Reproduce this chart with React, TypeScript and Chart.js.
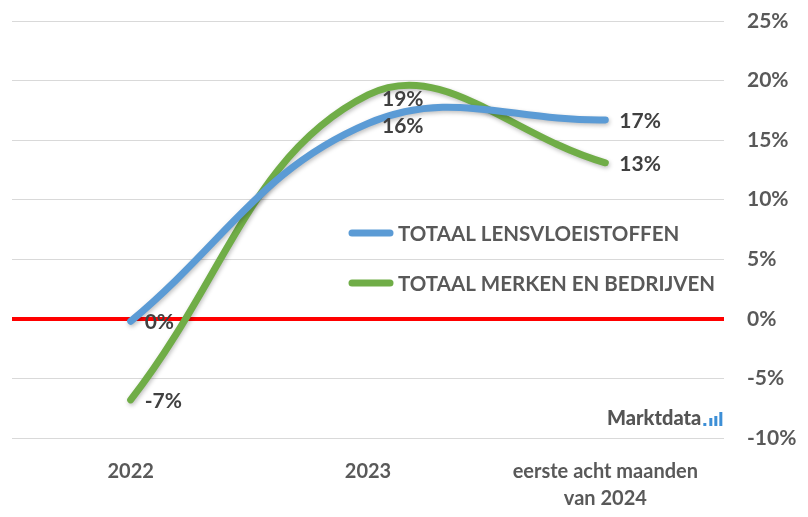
import React, { useEffect, useRef } from "react";
import { Chart, registerables } from "chart.js";

Chart.register(...registerables);

const categories: (string | string[])[] = ["2022", "2023", ["eerste acht maanden", "van 2024"]];
const seriesNames = ["TOTAAL LENSVLOEISTOFFEN", "TOTAAL MERKEN EN BEDRIJVEN"];
const lensvloeistoffen = [-0.2, 16.4, 16.7];
const merkenEnBedrijven = [-6.8, 18.8, 13.1];
const seriesColors = ["#5B9BD5", "#70AD47"];
const yMin = -10;
const yMax = 25;
const yStep = 5;

const FONT = "Lato, 'Open Sans', sans-serif";
const TICK_COLOR = "#595959";
const LABEL_COLOR = "#404040";

// small manual nudges for overlapping data labels (dataset -> point index -> dy)
const labelNudge: Record<number, Record<number, number>> = {
  0: { 1: 2 },
  1: { 1: 3 },
};

const dataLabelPlugin = {
  id: "dataLabels",
  afterDatasetsDraw(chart: any) {
    const ctx = chart.ctx;
    ctx.save();
    ctx.font = `bold 21px ${FONT}`;
    ctx.fillStyle = LABEL_COLOR;
    ctx.textAlign = "left";
    ctx.textBaseline = "middle";
    chart.data.datasets.forEach((ds: any, di: number) => {
      const meta = chart.getDatasetMeta(di);
      meta.data.forEach((pt: any, i: number) => {
        const v = Math.round(ds.data[i]);
        const txt = `${v === 0 ? 0 : v}%`;
        const dy = (labelNudge[di] && labelNudge[di][i]) || 0;
        ctx.fillText(txt, pt.x + 14, pt.y + dy + 1);
      });
    });
    ctx.restore();
  },
};

const legendPlugin = {
  id: "insideLegend",
  afterDatasetsDraw(chart: any) {
    const ctx = chart.ctx;
    const area = chart.chartArea;
    ctx.save();
    seriesNames.forEach((name, i) => {
      const y = area.top + 212 + i * 50;
      const x0 = area.left + 340;
      ctx.strokeStyle = seriesColors[i];
      ctx.lineWidth = 7;
      ctx.lineCap = "round";
      ctx.beginPath();
      ctx.moveTo(x0, y);
      ctx.lineTo(x0 + 38, y);
      ctx.stroke();
      ctx.font = `bold 20.5px ${FONT}`;
      ctx.fillStyle = TICK_COLOR;
      ctx.textAlign = "left";
      ctx.textBaseline = "middle";
      ctx.fillText(name, x0 + 46, y + 1);
    });
    // watermark
    const wx = area.right - 117;
    const wy = area.bottom - 19;
    ctx.font = `900 20px ${FONT}`;
    ctx.fillStyle = "#555555";
    ctx.textBaseline = "middle";
    ctx.fillText("Marktdata", wx, wy);
    const w = ctx.measureText("Marktdata").width;
    ctx.fillStyle = "#3D8FD6";
    const bx = wx + w + 2;
    ctx.fillRect(bx, wy + 4, 3, 3);
    ctx.fillRect(bx + 6, wy - 1, 3, 8);
    ctx.fillRect(bx + 11, wy - 3, 3, 10);
    ctx.fillRect(bx + 16, wy - 7, 3, 14);
    ctx.restore();
  },
};

const shadowPlugin = {
  id: "lineShadow",
  beforeDatasetDraw(chart: any) {
    const ctx = chart.ctx;
    ctx.save();
    ctx.shadowColor = "rgba(0,0,0,0.25)";
    ctx.shadowBlur = 4;
    ctx.shadowOffsetX = 1;
    ctx.shadowOffsetY = 2;
  },
  afterDatasetDraw(chart: any) {
    chart.ctx.restore();
  },
};

export default function App() {
  const canvasRef = useRef<HTMLCanvasElement | null>(null);

  useEffect(() => {
    if (!canvasRef.current) return;
    const chart = new Chart(canvasRef.current, {
      type: "line",
      data: {
        labels: categories as any,
        datasets: [
          {
            label: seriesNames[0],
            data: lensvloeistoffen,
            borderColor: seriesColors[0],
            backgroundColor: seriesColors[0],
            borderWidth: 7,
            tension: 0.4,
            pointRadius: 0,
            borderCapStyle: "round",
            borderJoinStyle: "round",
            fill: false,
          },
          {
            label: seriesNames[1],
            data: merkenEnBedrijven,
            borderColor: seriesColors[1],
            backgroundColor: seriesColors[1],
            borderWidth: 7,
            tension: 0.4,
            pointRadius: 0,
            borderCapStyle: "round",
            borderJoinStyle: "round",
            fill: false,
          },
        ],
      },
      options: {
        animation: false,
        responsive: true,
        maintainAspectRatio: false,
        layout: { padding: { left: 12, top: 21, right: 0, bottom: 0 } },
        plugins: {
          legend: { display: false },
          tooltip: { enabled: false },
        },
        scales: {
          x: {
            offset: true,
            grid: { display: false, drawTicks: false },
            border: { display: false },
            ticks: {
              color: TICK_COLOR,
              font: { family: FONT, size: 20, weight: "bold", lineHeight: 1.35 },
              padding: 20,
              maxRotation: 0,
              autoSkip: false,
            },
            afterFit(scale: any) {
              scale.height = 79;
              scale.paddingLeft = 0;
              scale.paddingRight = 0;
            },
          },
          y: {
            position: "right",
            min: yMin,
            max: yMax,
            grid: {
              drawTicks: false,
              color: (c: any) => (c.tick && c.tick.value === 0 ? "#FF0000" : "#D9D9D9"),
              lineWidth: (c: any) => (c.tick && c.tick.value === 0 ? 4 : 1),
            },
            border: { display: false },
            ticks: {
              stepSize: yStep,
              color: TICK_COLOR,
              font: { family: FONT, size: 21, weight: "bold" },
              padding: 23,
              callback: (v: any) => `${v}%`,
            },
            afterFit(scale: any) {
              scale.width = 84;
              scale.paddingTop = 0;
              scale.paddingBottom = 0;
            },
          },
        },
      },
      plugins: [shadowPlugin, dataLabelPlugin, legendPlugin],
    });
    return () => chart.destroy();
  }, []);

  return (
    <div style={{ position: "fixed", left: 0, top: 0, width: 808, height: 517, background: "#fff" }}>
      <canvas ref={canvasRef} />
    </div>
  );
}
